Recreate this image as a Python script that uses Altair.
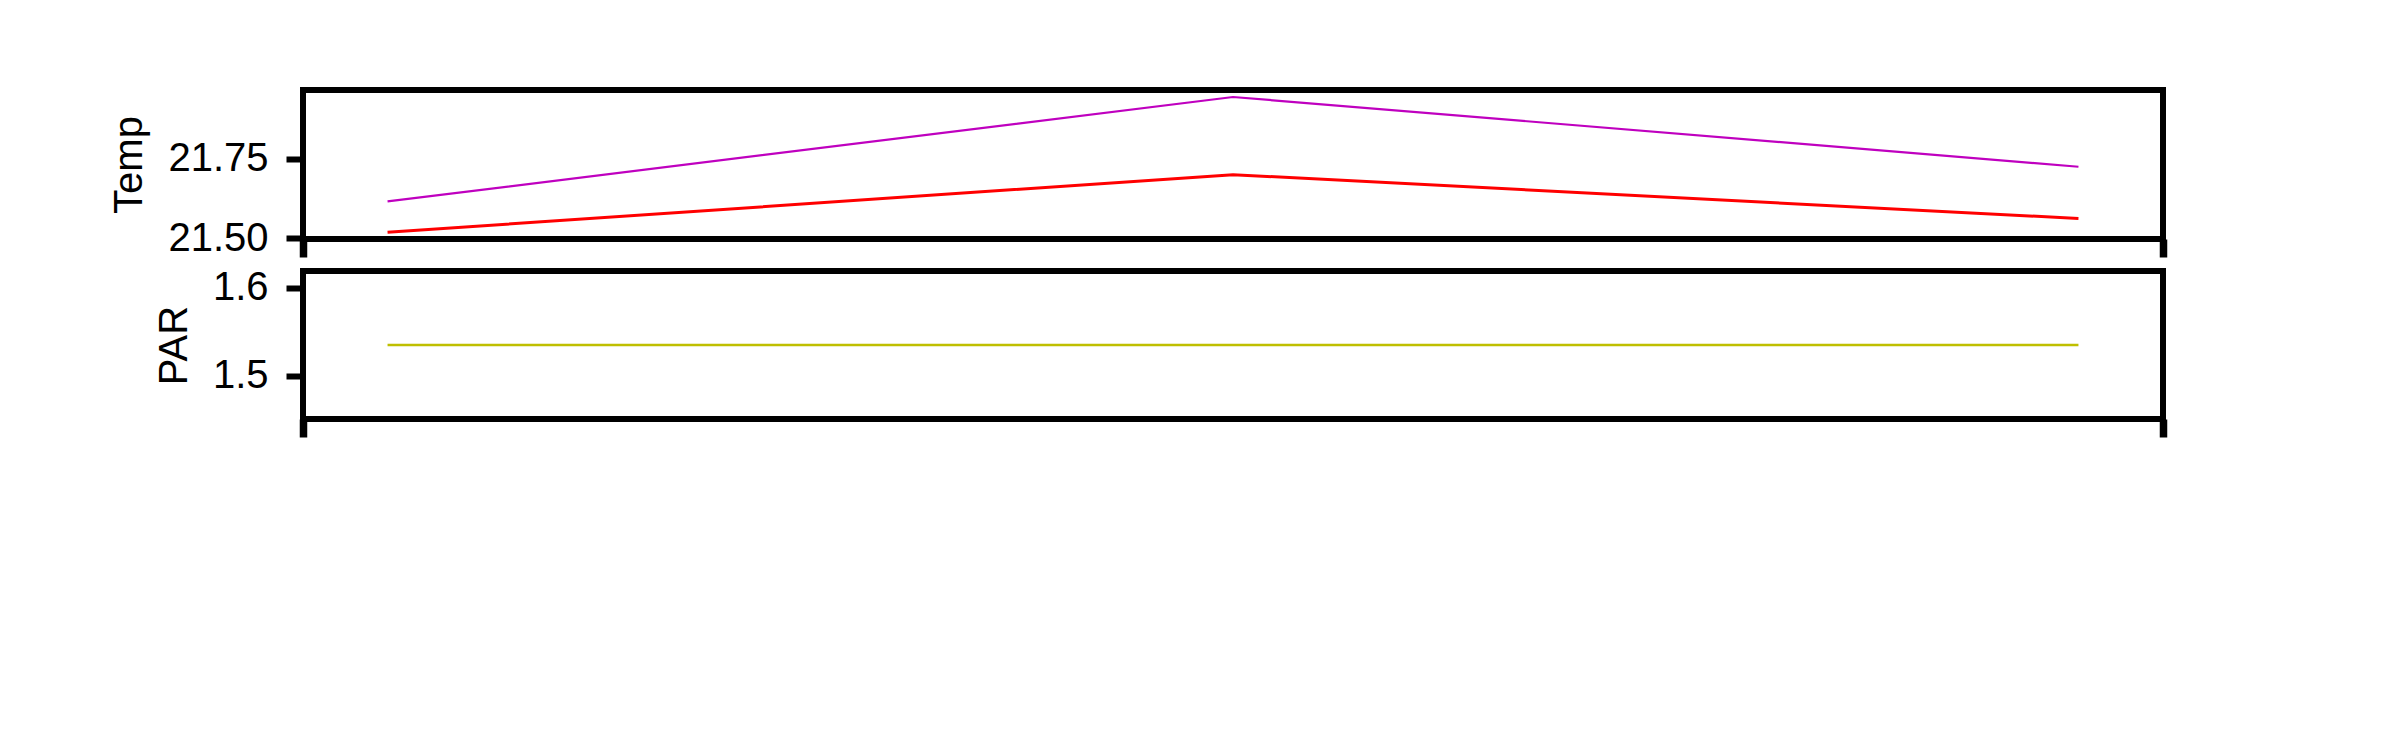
import altair as alt
import pandas as pd

# ---- data ----
x_pos = [0, 1, 2]
temp_red = [21.519, 21.700, 21.5625]
temp_magenta = [21.616, 21.944, 21.725]
par_yellow = [1.535, 1.535, 1.535]

temp_domain = [21.498, 21.966]
temp_ticks = [21.50, 21.75]
par_domain = [1.451, 1.619]
par_ticks = [1.5, 1.6]
x_domain = [-0.1, 2.1]
x_ticks = [-0.1, 2.1]

FONT = "Liberation Sans"

red_df = pd.DataFrame({"x": x_pos, "v": temp_red})
mag_df = pd.DataFrame({"x": x_pos, "v": temp_magenta})
par_df = pd.DataFrame({"x": x_pos, "v": par_yellow})

x_enc = alt.X(
    "x:Q",
    scale=alt.Scale(domain=x_domain, nice=False, zero=False),
    axis=alt.Axis(values=x_ticks, labels=False, title=None, tickSize=18,
                  tickWidth=7.5, tickColor="black", domain=False, grid=False),
)


def y_enc(title, domain, ticks, fmt):
    return alt.Y(
        "v:Q",
        scale=alt.Scale(domain=domain, nice=False, zero=False),
        axis=alt.Axis(values=ticks, format=fmt, title=title, grid=False,
                      domain=False, tickSize=17, tickWidth=6, tickColor="black",
                      labelFontSize=40, labelFont=FONT, labelColor="black",
                      labelPadding=18, titleFontSize=40, titleFont=FONT,
                      titleFontWeight="normal", titleColor="black",
                      titlePadding=18),
    )


temp_y = y_enc("Temp", temp_domain, temp_ticks, ".2f")
par_y = y_enc("PAR", par_domain, par_ticks, ".1f")

magenta = alt.Chart(mag_df).mark_line(color="#bf00bf", strokeWidth=2.2).encode(x=x_enc, y=temp_y)
red = alt.Chart(red_df).mark_line(color="#ff0000", strokeWidth=3).encode(x=x_enc, y=temp_y)
top = alt.layer(magenta, red).properties(width=1860, height=149)

bottom = alt.Chart(par_df).mark_line(color="#bfbf00", strokeWidth=2.5).encode(
    x=x_enc, y=par_y).properties(width=1860, height=148)

chart = alt.vconcat(top, bottom, spacing=0).properties(
    padding={"left": 98, "top": 79, "right": 5, "bottom": 5},
    background="white",
).configure_view(stroke="black", strokeWidth=6)

chart.save("out.html", embed_options={"renderer": "svg", "actions": False})
